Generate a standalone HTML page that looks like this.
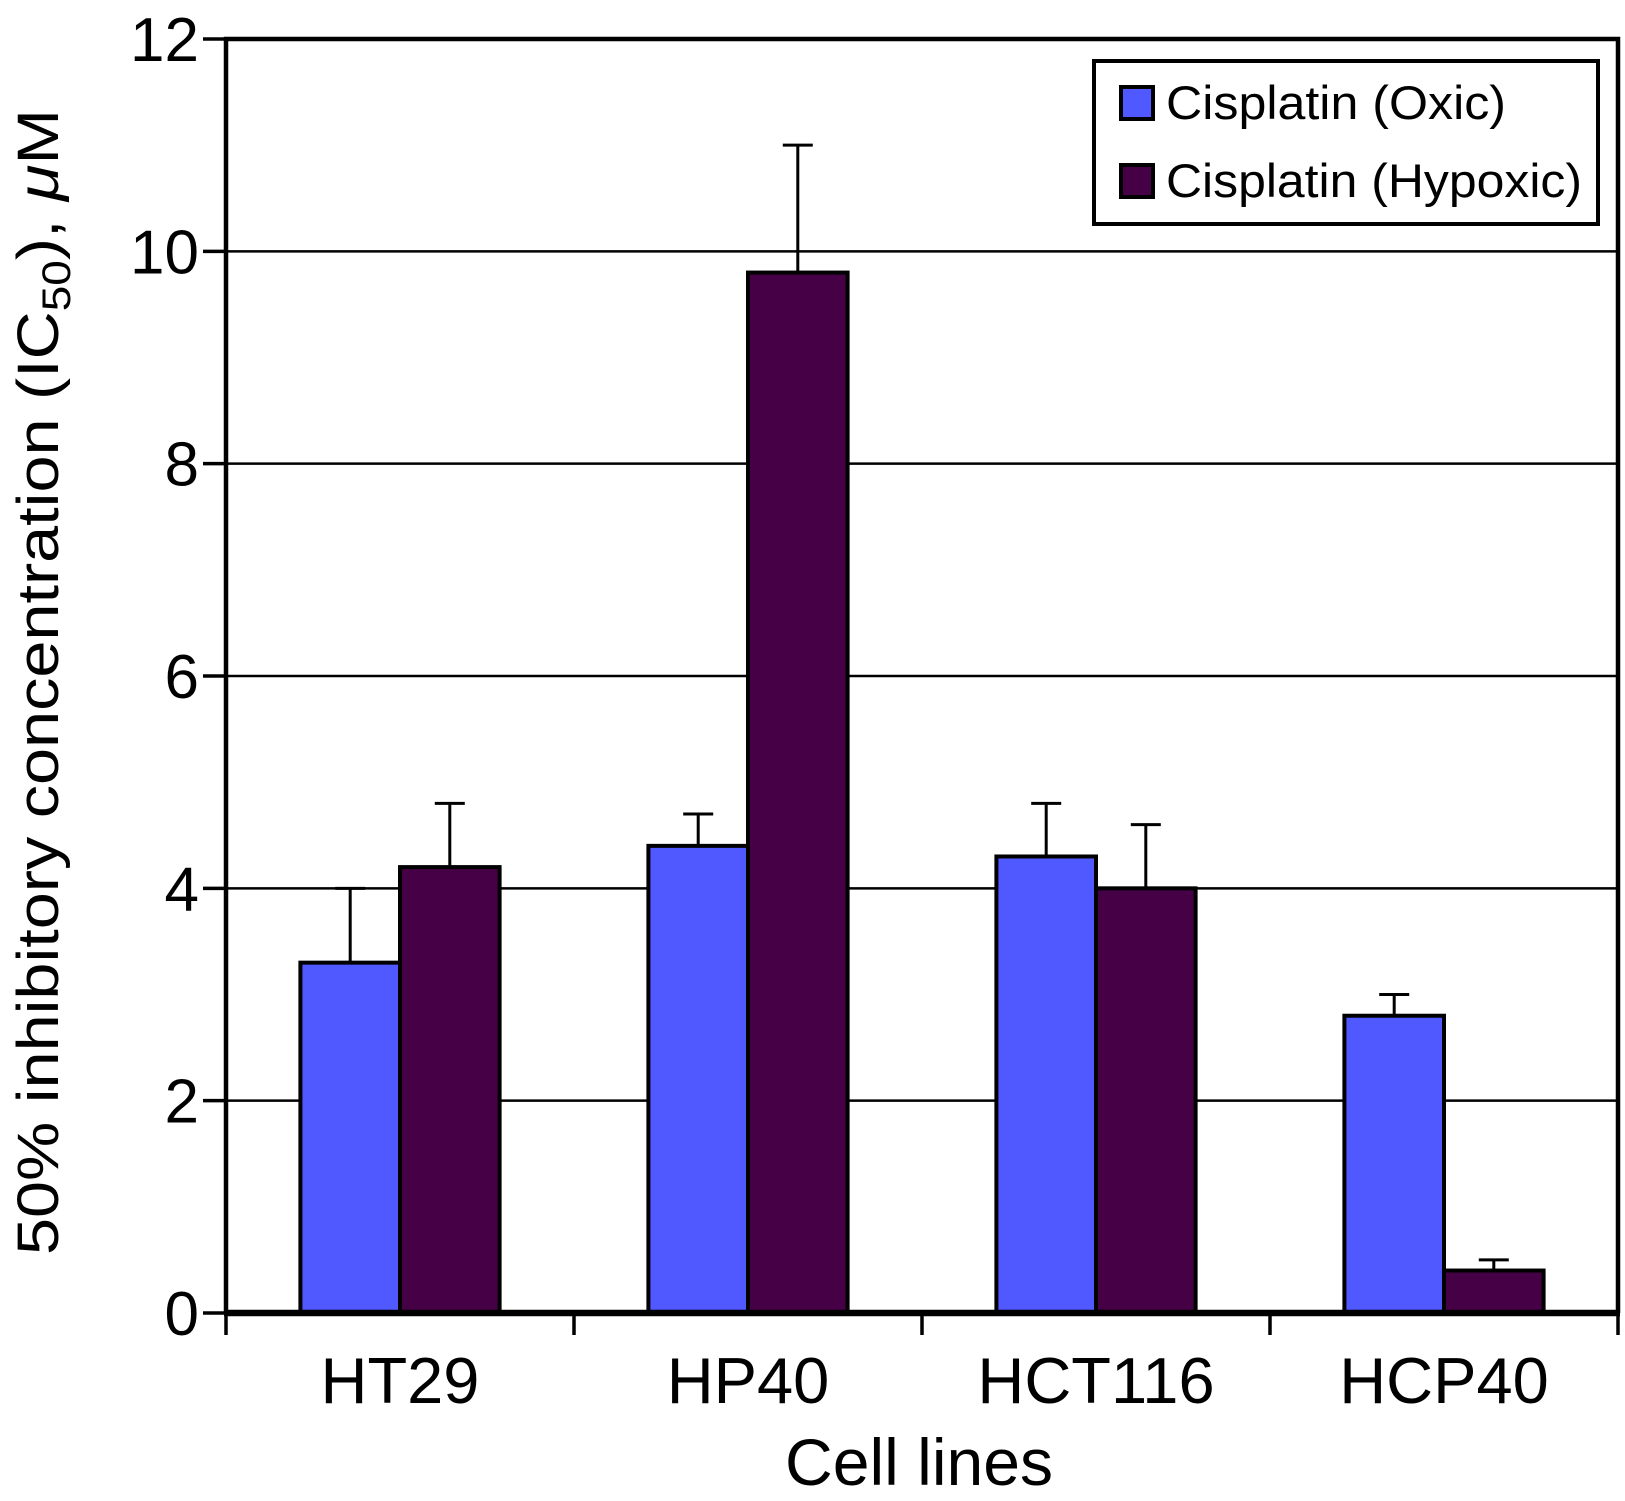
<!DOCTYPE html>
<html><head><meta charset="utf-8"><style>
html,body{margin:0;padding:0;background:#fff;}
svg{display:block;font-family:"Liberation Sans",Arial,sans-serif;}
</style></head><body>
<svg id="chart" width="1625" height="1501" viewBox="0 0 1625 1501" xmlns="http://www.w3.org/2000/svg">
<g id="grid"></g>
<g id="bars"></g>
<g id="axes"></g>
<g>
<rect x="1094" y="61" width="504" height="163" fill="#fff" stroke="#000" stroke-width="4"/>
<rect x="1121" y="87" width="32" height="32" fill="#5058ff" stroke="#000" stroke-width="4"/>
<text x="1166" y="119" font-size="47" textLength="340" lengthAdjust="spacingAndGlyphs">Cisplatin (Oxic)</text>
<rect x="1121" y="165" width="32" height="32" fill="#460046" stroke="#000" stroke-width="4"/>
<text x="1166" y="197" font-size="47" textLength="416" lengthAdjust="spacingAndGlyphs">Cisplatin (Hypoxic)</text>
</g>
<text x="919" y="1485" font-size="66" text-anchor="middle" textLength="268" lengthAdjust="spacingAndGlyphs">Cell lines</text>
<text transform="translate(58,682) rotate(-90)" font-size="58" text-anchor="middle" textLength="1146" lengthAdjust="spacingAndGlyphs">50% inhibitory concentration (IC<tspan font-size="40" dy="12">50</tspan><tspan dy="-12">), </tspan><tspan font-style="italic">μ</tspan>M</text>
</svg>
<script>
const categories=["HT29","HP40","HCT116","HCP40"];
const oxic=[3.3,4.4,4.3,2.8];
const oxicErr=[0.7,0.3,0.5,0.2];
const hypoxic=[4.2,9.8,4.0,0.4];
const hypoxicErr=[0.6,1.2,0.6,0.1];
const yTicks=[0,2,4,6,8,10,12];
const NS="http://www.w3.org/2000/svg";
const L=226,R=1618,T=39,B=1313,yMax=12;
const y=v=>B-(v/yMax)*(B-T);
const bandW=(R-L)/categories.length;
const xBand=i=>L+i*bandW;
const barW=99.6;
function mk(tag,attrs,parent){const e=document.createElementNS(NS,tag);for(const k in attrs)e.setAttribute(k,attrs[k]);parent.appendChild(e);return e;}
const grid=document.getElementById('grid'),bars=document.getElementById('bars'),axes=document.getElementById('axes');
yTicks.forEach(t=>{
 if(t>0&&t<yMax){const g=mk('line',{x1:L,x2:R,y1:y(t),y2:y(t),stroke:'#000','stroke-width':2.5},grid);
 
 }
 const tk=mk('line',{x1:203,x2:L,y1:y(t),y2:y(t),stroke:'#000','stroke-width':3.5},axes);
 
 
 const tx=mk('text',{x:199,y:y(t)+22,'font-size':62,'text-anchor':'end'},axes);
 tx.textContent=t;
 
 
});
function bar(i,v,err,off,col,name){
 const x0=xBand(i)+bandW/2+off*barW;
 const eb=mk('line',{x1:x0+barW/2,x2:x0+barW/2,y1:y(v),y2:y(v+err),stroke:'#000','stroke-width':3},bars);
 
 
 const cap=mk('line',{x1:x0+barW/2-15,x2:x0+barW/2+15,y1:y(v+err),y2:y(v+err),stroke:'#000','stroke-width':3},bars);
 
 
 const r=mk('rect',{x:x0,y:y(v),width:barW,height:B-y(v),fill:col,stroke:'#000','stroke-width':4},bars);
 
 
}
categories.forEach((c,i)=>{
 bar(i,oxic[i],oxicErr[i],-1,'#5058ff',c.toLowerCase()+'-oxic');
 bar(i,hypoxic[i],hypoxicErr[i],0,'#460046',c.toLowerCase()+'-hypoxic');
 const lb=mk('text',{x:xBand(i)+bandW/2,y:1403,'font-size':65,'text-anchor':'middle'},axes);
 lb.textContent=c;
 
 
});
for(let i=0;i<=categories.length;i++){
 const t=mk('line',{x1:xBand(i),x2:xBand(i),y1:B,y2:B+22,stroke:'#000','stroke-width':3.5},axes);
 
 
}
const frame=mk('path',{d:`M${L},${B} L${L},${T} L${R},${T} L${R},${B}`,fill:'none',stroke:'#000','stroke-width':4.5},axes);


const xa=mk('line',{x1:L-2,x2:R+2,y1:B,y2:B,stroke:'#000','stroke-width':6.5},axes);


</script>
</body></html>
